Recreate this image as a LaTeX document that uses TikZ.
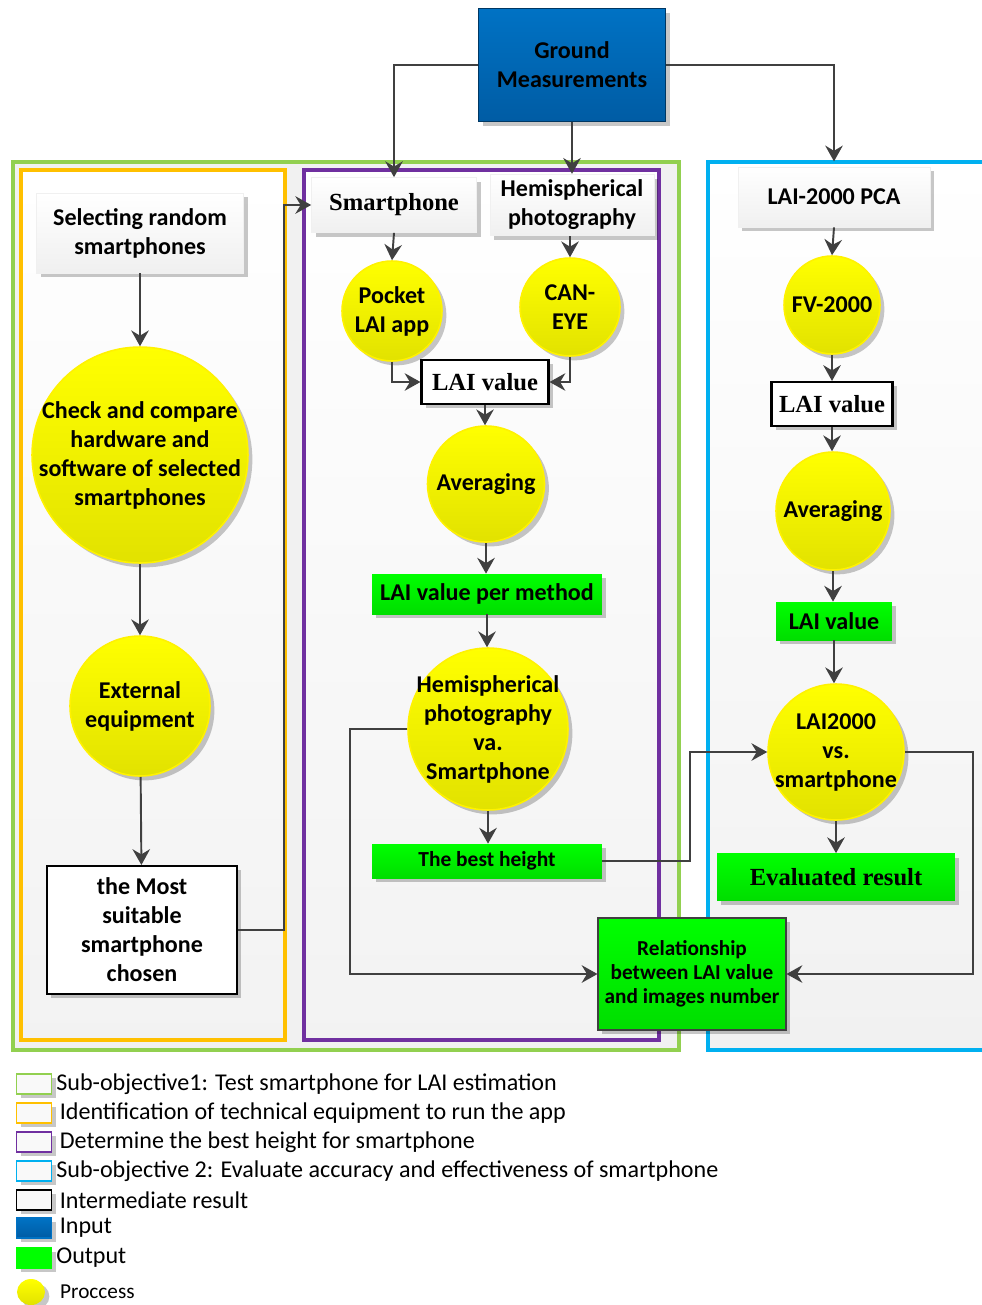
\documentclass[tikz,border=0pt]{standalone}
\usepackage{fontspec}
\setmainfont{Carlito}
\newfontfamily\tnr{Liberation Serif}
\usetikzlibrary{shapes.geometric,arrows.meta,positioning,shadows}

\definecolor{gmblue}{RGB}{0,114,196}
\definecolor{gmdark}{RGB}{0,92,164}
\definecolor{outgreen}{RGB}{0,255,0}
\definecolor{outdark}{RGB}{0,222,0}
\definecolor{frgreen}{RGB}{146,208,80}
\definecolor{frorange}{RGB}{255,192,0}
\definecolor{frpurple}{RGB}{112,48,160}
\definecolor{frblue}{RGB}{0,176,240}
\definecolor{linegray}{RGB}{64,64,64}
\definecolor{procdark}{RGB}{226,226,0}

\begin{document}
\begin{tikzpicture}[x=0.02cm, y=-0.02cm,
    font=\bfseries\fontsize{13.7}{16.5}\selectfont,
    shad/.style={drop shadow={shadow xshift=2.5pt, shadow yshift=-2.5pt, opacity=0.22, fill=black}},
    proc/.style={ellipse, inner sep=0pt, top color=yellow, bottom color=procdark, draw=yellow, line width=0.9pt, shad},
    ptext/.style={align=center, inner sep=0pt},
    grey/.style={rectangle, align=center, top color=white, bottom color=gray!12, draw=gray!12, shad},
    inter/.style={rectangle, align=center, fill=white, draw=black, line width=1.2pt, shad},
    outp/.style={rectangle, align=center, top color=outgreen, bottom color=outdark, shad},
    inp/.style={rectangle, align=center, top color=gmblue, bottom color=gmdark, draw=gmdark!60!black, shad},
    arrow/.style={-{Stealth[length=9pt, width=10pt, inset=3pt]}, draw=linegray, line width=1.1pt},
    frame/.style={line width=1.8pt},
    lgbox/.style={rectangle, minimum width=0.7cm, minimum height=0.4cm, inner sep=0pt, line width=1.1pt, shad},
    lgtext/.style={font=\mdseries\fontsize{13.7}{15}\selectfont, inner sep=0pt}
]
\useasboundingbox (0,0) rectangle (981,1305);

% frames
\draw[frame, draw=frgreen, fill=gray!11] (13,162) rectangle (679,1050);
\draw[frame, draw=frorange, top color=white, bottom color=gray!10] (21,170) rectangle (285,1040);
\draw[frame, draw=frpurple, top color=white, bottom color=gray!10] (304,170) rectangle (659,1040);
\draw[frame, draw=frblue, top color=white, bottom color=gray!11] (708,162) rectangle (1000,1050);

% input
\node[inp, minimum width=3.74cm, minimum height=2.26cm] (gm) at (572,65) {Ground\\Measurements};

% sub-objective 1, left column
\node[grey, minimum width=4.14cm, minimum height=1.6cm] (sel) at (140,233) {Selecting random\\smartphones};
\node[proc, minimum width=4.32cm, minimum height=4.32cm,
      label={[ptext]center:Check and compare\\hardware and\\software of selected\\smartphones}] (chk) at (140,455) {};
\node[proc, minimum width=2.8cm, minimum height=2.8cm,
      label={[ptext]center:External\\equipment}] (ext) at (140,706) {};
\node[inter, minimum width=3.8cm, minimum height=2.56cm] (most) at (142,930) {the Most\\suitable\\smartphone\\chosen};

% middle column
\node[grey, minimum width=3.3cm, minimum height=1.1cm, font=\tnr\bfseries\fontsize{14}{16}\selectfont] (sp) at (394,205) {Smartphone};
\node[grey, minimum width=3.28cm, minimum height=1.1cm] (hp) at (572,205) {Hemispherical\\photography};
\node[proc, minimum width=2cm, minimum height=2cm,
      label={[ptext]center:Pocket\\LAI app}] (pk) at (392,311) {};
\node[proc, minimum width=2cm, minimum height=1.96cm,
      label={[ptext]center:CAN-\\EYE}] (ce) at (570,307) {};
\node[inter, minimum width=2.54cm, minimum height=0.88cm, font=\tnr\bfseries\fontsize{14}{16}\selectfont] (lai1) at (485,382) {LAI value};
\node[proc, minimum width=2.34cm, minimum height=2.32cm,
      label={[ptext]center:Averaging}] (avg1) at (486,484) {};
\node[outp, minimum width=4.6cm, minimum height=0.8cm] (lpm) at (487,594) {LAI value per method};
\node[proc, minimum width=3.2cm, minimum height=3.24cm,
      label={[ptext]center:Hemispherical\\photography\\va.\\Smartphone}] (hv) at (488,729) {};
\node[outp, minimum width=4.6cm, minimum height=0.68cm, font=\bfseries\fontsize{12.2}{14}\selectfont] (bh) at (487,861) {The best height};
\node[outp, draw=linegray, line width=0.6pt, minimum width=3.76cm, minimum height=2.24cm,
      font=\bfseries\fontsize{12.1}{13.5}\selectfont] (rel) at (692,974) {Relationship\\between LAI value\\and images number};

% sub-objective 2, right column
\node[grey, minimum width=3.84cm, minimum height=1.2cm] (pca) at (834,197) {LAI-2000 PCA};
\node[proc, minimum width=1.92cm, minimum height=1.96cm,
      label={[ptext]center:FV-2000}] (fv) at (832,305) {};
\node[inter, minimum width=2.42cm, minimum height=0.88cm, font=\tnr\bfseries\fontsize{14}{16}\selectfont] (lai2) at (832,404) {LAI value};
\node[proc, minimum width=2.28cm, minimum height=2.36cm,
      label={[ptext]center:Averaging}] (avg2) at (833,511) {};
\node[outp, minimum width=2.32cm, minimum height=0.76cm] (lv2) at (834,621) {LAI value};
\node[proc, minimum width=2.72cm, minimum height=2.72cm,
      label={[ptext]center:LAI2000\\vs.\\smartphone}] (lvs) at (836,752) {};
\node[outp, minimum width=4.76cm, minimum height=0.94cm, font=\tnr\bfseries\fontsize{14}{16}\selectfont] (ev) at (836,877) {Evaluated result};

% connectors
\draw[arrow] (gm.west) -| (sp.north);
\draw[arrow] (gm.south) -- (gm.south |- hp.north);
\draw[arrow] (gm.east) -| ([yshift=3pt]pca.north);
\draw[arrow] (sel) -- (chk);
\draw[arrow] (chk) -- (ext);
\draw[arrow] (ext) -- (most);
\draw[arrow] (most.east) -- ++(46,0) |- (sp.west);
\draw[arrow] (sp.south) -- (pk.north);
\draw[arrow] (hp.south -| ce.north) -- (ce.north);
\draw[arrow] (pk.south) |- (lai1.west);
\draw[arrow] (ce.south) |- (lai1.east);
\draw[arrow] (lai1.south) -- (lai1.south |- avg1.north);
\draw[arrow] (avg1.south) -- (avg1.south |- lpm.north);
\draw[arrow] (lpm.south) -- (lpm.south |- hv.north);
\draw[arrow] (hv.south) -- (hv.south |- bh.north);
\draw[arrow] (hv.west) -- ++(-57,0) |- (rel.west);
\draw[arrow] (bh.east) -- ++(88,0) |- (lvs.west);
\draw[arrow] (lvs.east) -- ++(68,0) |- (rel.east);
\draw[arrow] (pca.south) -- (fv.north);
\draw[arrow] (fv.south) -- (fv.south |- lai2.north);
\draw[arrow] (lai2.south) -- (lai2.south |- avg2.north);
\draw[arrow] (avg2.south) -- (avg2.south |- lv2.north);
\draw[arrow] (lv2.south) -- (lv2.south |- lvs.north);
\draw[arrow] (lvs.south) -- (lvs.south |- ev.north);

% legend
\node[lgbox, draw=frgreen, fill=gray!5] (lg1) at (34,1084) {};
\node[lgbox, draw=frorange, fill=gray!5] (lg2) at (34,1113) {};
\node[lgbox, draw=frpurple, fill=gray!5] (lg3) at (34,1142) {};
\node[lgbox, draw=frblue, fill=gray!5] (lg4) at (34,1171) {};
\node[lgbox, draw=black, fill=gray!5] (lg5) at (34,1200) {};
\node[lgbox, draw=gmblue, top color=gmblue, bottom color=gmdark] (lg6) at (34,1228) {};
\node[lgbox, draw=outgreen, fill=outgreen] (lg7) at (34,1258) {};
\node[proc, minimum width=0.56cm, minimum height=0.52cm, draw=none] (lg8) at (31,1292) {};
\node[lgtext, right=2pt of lg1] (t1) {Sub-objective1: Test smartphone for LAI estimation};
\node[lgtext, right=4pt of lg2] (t2) {Identification of technical equipment to run the app};
\node[lgtext, right=4pt of lg3] (t3) {Determine the best height for smartphone};
\node[lgtext, right=2pt of lg4] (t4) {Sub-objective 2: Evaluate accuracy and effectiveness of smartphone};
\node[lgtext, right=4pt of lg5] (t5) {Intermediate result};
\node[lgtext, right=4pt of lg6] (t6) {Input};
\node[lgtext, right=2pt of lg7] (t7) {Output};
\node[lgtext, font=\mdseries\fontsize{12.1}{13}\selectfont, right=8pt of lg8] (t8) {Proccess};
\end{tikzpicture}
\end{document}
